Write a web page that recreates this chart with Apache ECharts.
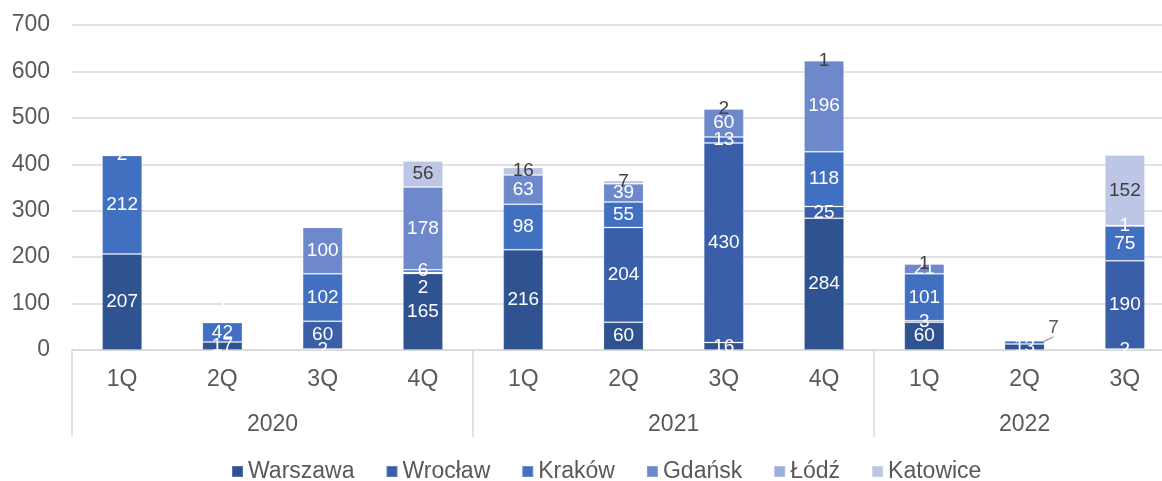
<!DOCTYPE html>
<html>
<head>
<meta charset="utf-8">
<script src="https://cdn.jsdelivr.net/npm/echarts@6/dist/echarts.min.js"></script>
<style>
  html, body { margin: 0; padding: 0; background: #ffffff; }
  #chart { width: 1162px; height: 481px; }
</style>
</head>
<body>
<div id="chart"></div>
<script>
// Quarterly values by city, stacked per quarter
const quarters = ['1Q', '2Q', '3Q', '4Q', '1Q', '2Q', '3Q', '4Q', '1Q', '2Q', '3Q'];
const years = ['2020', '2021', '2022'];
const quartersPerYear = [4, 4, 3];
const yTicks = [0, 100, 200, 300, 400, 500, 600, 700];

const cities = ['Warszawa', 'Wrocław', 'Kraków', 'Gdańsk', 'Łódź', 'Katowice'];
const warszawa = [207, 17, 2, 165, 216, 60, 16, 284, 60, 13, 2];
const wroclaw  = [null, null, 60, 2, null, 204, 430, 25, 3, null, 190];
const krakow   = [212, 42, 102, 6, 98, 55, 13, 118, 101, 7, 75];
const gdansk   = [2, 1, 100, 178, 63, 39, 60, 196, 21, null, 1];
const lodz     = [null, null, null, null, null, null, null, null, null, null, null];
const katowice = [null, null, null, 56, 16, 7, 2, 1, 1, null, 152];

const seriesValues = [warszawa, wroclaw, krakow, gdansk, lodz, katowice];
const colors = ['#2F5290', '#3A5EA8', '#4270C0', '#6E89CB', '#9DAFDB', '#BDC7E5'];
const labelColors = ['#ffffff', '#ffffff', '#ffffff', '#ffffff', '#ffffff', '#404040'];

const textGrey = '#595959';
const lineGrey = '#D9D9D9';
const fontFamily = '"Liberation Sans", Arial, sans-serif';

// Half-quarter slots for the year row: year names sit at the middle of their span,
// separators sit at the year boundaries.
const slotCount = quarters.length * 2;
const yearSlots = new Array(slotCount + 1).fill('');
const boundarySlots = [0];
let start = 0;
years.forEach((y, i) => {
  yearSlots[start * 2 + quartersPerYear[i]] = y;
  start += quartersPerYear[i];
  boundarySlots.push(start * 2);
});

// label nudges for segments too thin to hold their own text
const labelShifts = {
  'Wrocław': { 3: { dy: 15 } },
  'Kraków': { 9: { dx: 29, dy: -15 } }
};

const series = cities.map((name, s) => {
  const data = seriesValues[s].map((v, i) => {
    if (v === null) return null;
    const item = { value: v };
    // tiny Gdańsk segment in 2Q 2020: label sits above the bar
    if (name === 'Gdańsk' && i === 1) {
      item.label = { position: 'top', distance: 9 };
    }
    // thin Kraków segment in 2Q 2022: label pulled out with a leader line
    if (name === 'Kraków' && i === 9) {
      item.label = { color: textGrey };
      item.labelLine = { show: true, lineStyle: { color: '#A6A6A6', width: 1.5 } };
    }
    return item;
  });
  const shifts = labelShifts[name];
  return {
    name: name,
    type: 'bar',
    stack: 'total',
    barWidth: '40%',
    data: data,
    itemStyle: { color: colors[s], borderColor: 'rgba(255,255,255,0.2)', borderWidth: 1 },
    label: {
      show: true,
      position: 'inside',
      color: labelColors[s],
      fontSize: 19,
      fontFamily: fontFamily
    },
    labelLine: { show: false },
    labelLayout: shifts
      ? function (p) { return shifts[p.dataIndex] || {}; }
      : undefined
  };
});

const chart = echarts.init(document.getElementById('chart'));
chart.setOption({
  animation: false,
  backgroundColor: '#ffffff',
  textStyle: { fontFamily: fontFamily },
  // the plot runs slightly past the right edge of the canvas
  grid: { left: 72, width: 1103, top: 25, bottom: 131, containLabel: false, outerBoundsMode: 'none' },
  legend: {
    data: cities,
    top: 455,
    left: 226,
    icon: 'rect',
    itemWidth: 11,
    itemHeight: 11,
    itemGap: 31,
    textStyle: { fontSize: 23, color: textGrey, fontFamily: fontFamily }
  },
  xAxis: [
    {
      type: 'category',
      position: 'bottom',
      data: quarters,
      axisLine: { show: true, lineStyle: { color: lineGrey, width: 1.5 } },
      axisTick: { show: false },
      axisLabel: { fontSize: 23, color: textGrey, margin: 18, fontFamily: fontFamily }
    },
    {
      type: 'category',
      position: 'bottom',
      boundaryGap: false,
      data: yearSlots,
      axisLine: { show: false },
      axisTick: {
        show: true,
        length: 87,
        interval: function (index) { return boundarySlots.indexOf(index) !== -1; },
        lineStyle: { color: lineGrey, width: 1.5 }
      },
      axisLabel: { interval: 0, fontSize: 23, color: textGrey, margin: 63, fontFamily: fontFamily },
      splitLine: { show: false }
    }
  ],
  yAxis: {
    type: 'value',
    min: yTicks[0],
    max: yTicks[yTicks.length - 1],
    interval: yTicks[1] - yTicks[0],
    axisLine: { show: false },
    axisTick: { show: false },
    axisLabel: { fontSize: 23, color: textGrey, margin: 22, fontFamily: fontFamily },
    splitLine: { lineStyle: { color: lineGrey, width: 1.5 } }
  },
  series: series
});
</script>
</body>
</html>
